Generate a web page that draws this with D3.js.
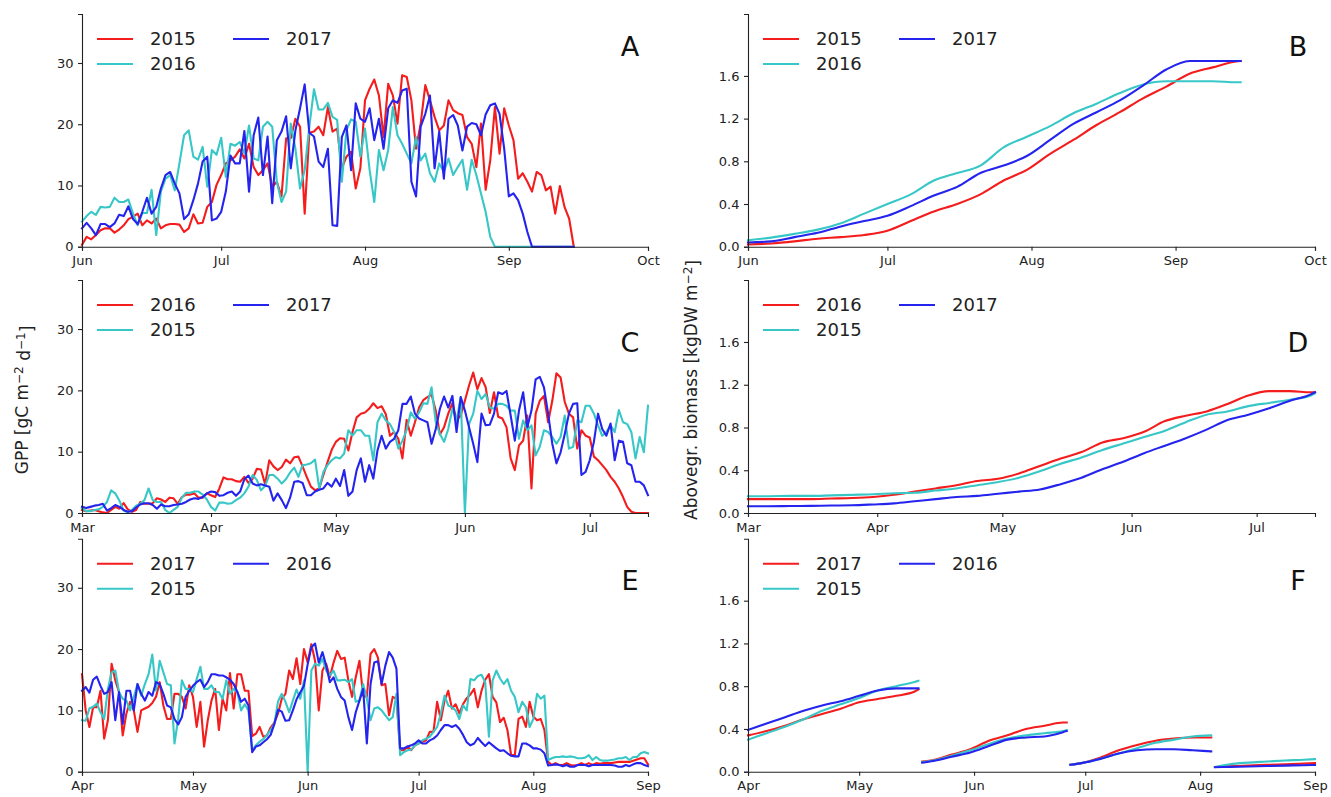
<!DOCTYPE html>
<html><head><meta charset="utf-8">
<script src="https://cdn.jsdelivr.net/npm/d3@7"></script>
<style>
body{margin:0;background:#fff}
svg{display:block}
text{font-family:"DejaVu Sans",sans-serif}
</style>
</head><body>
<svg id="c" width="1331" height="797"></svg>
<script>
// ---------------- DATA ----------------
// Panel A: daily GPP from 1 Jun (index = day offset)
const gppA_2015 = [0.3,1.6,1.2,1.9,2.7,3.0,3.0,2.3,2.8,3.5,4.5,4.9,5.4,3.5,4.3,3.8,4.6,3.0,3.5,3.7,3.7,3.6,2.4,3.0,5.3,3.8,3.9,6.5,7.3,10.1,11.7,13.6,14.1,14.7,15.9,14.4,16.8,13.0,11.7,12.5,13.6,9.8,
 10.6,8.2,17.7,17.7,20.9,19.6,5.4,18.6,18.8,19.6,18.2,22.8,18.8,19.3,12.8,14.7,15.5,9.5,12.8,23.9,25.8,27.3,24.7,17.9,26.6,24.7,20.1,28.0,27.7,23.9,16.0,20.1,26.4,23.9,21.2,19.0,19.8,23.9,
 22.3,21.8,21.5,17.9,16.8,13.0,20.1,9.3,14.1,22.8,15.2,22.6,19.8,17.4,11.1,12.0,10.6,9.0,12.2,11.7,9.2,9.8,5.4,9.9,6.5,4.6,0];
const gppA_2016 = [4.1,5.0,5.7,5.2,6.5,6.4,6.5,8.0,7.3,7.3,7.7,5.4,3.5,5.5,5.5,9.3,1.9,9.0,11.1,11.7,9.2,13.6,18.2,19.0,14.7,14.2,16.3,9.8,15.8,15.0,17.8,11.4,16.8,16.5,17.1,15.2,19.8,14.4,14.1,19.6,20.4,19.6,
 10.6,7.3,9.0,20.1,16.0,9.5,12.5,19.6,25.7,22.4,22.4,23.5,21.2,20.7,10.6,19.0,20.8,20.4,14.7,19.3,12.5,7.3,15.8,12.5,15.8,22.8,18.2,16.8,15.2,13.6,17.9,14.1,15.2,12.0,10.6,13.6,12.2,14.4,
 11.7,13.0,14.2,9.3,14.2,11.7,8.7,5.7,1.6,0,0,0,0,0,0,0,0,0,0,0,0,0,0,0,0,0,0];
const gppA_2017 = [3.0,3.9,3.0,1.9,3.7,3.7,3.2,3.8,5.2,5.0,6.6,4.5,3.7,5.7,8.0,5.4,6.5,9.5,11.7,12.2,10.3,8.7,4.5,5.3,7.6,10.3,13.9,14.7,4.3,4.6,5.7,9.0,14.9,13.6,13.6,18.9,9.0,18.2,21.1,11.7,18.0,7.1,
 17.4,18.8,21.3,12.8,19.0,22.6,26.5,18.6,18.0,13.9,13.0,16.0,3.5,3.4,17.9,19.8,12.5,23.4,20.9,20.4,22.6,17.4,20.9,16.0,22.6,23.9,23.5,25.5,25.8,10.6,8.2,19.6,21.7,24.7,12.8,18.8,11.1,20.9,
 21.5,19.8,15.7,19.6,20.2,20.0,18.2,21.6,23.1,23.4,21.7,16.0,8.2,8.7,7.6,5.4,2.4,0,0,0,0,0,0,0,0,0,0];

// Panel C: daily GPP from 1 Mar
const gppC_2016 = [0.5,0.3,0.4,0.5,0.3,0.1,0.0,0.5,1.0,0.7,1.6,0.6,0.2,0.5,1.8,1.5,1.5,1.6,2.4,2.2,1.8,2.5,2.4,1.5,2.6,3.0,3.0,3.2,2.5,2.5,3.2,2.9,2.6,4.0,5.8,5.5,5.5,5.2,5.1,5.9,4.9,5.6,7.2,7.1,4.7,8.6,
 7.6,7.0,7.5,8.7,8.1,9.1,9.2,7.6,5.9,4.3,3.7,4.0,6.2,8.3,10.3,11.6,12.2,12.1,10.2,13.2,15.6,16.2,16.4,17.0,17.9,17.1,17.4,16.1,12.6,13.2,12.1,8.9,15.2,12.6,14.8,17.2,18.4,18.9,19.3,16.7,12.8,14.0,16.2,
 17.9,15.1,15.9,18.3,20.8,22.9,20.2,22.0,20.5,16.3,19.7,15.7,15.4,14.0,8.9,7.0,11.0,11.8,15.9,4.0,16.2,18.3,19.1,14.8,18.3,22.8,22.1,18.1,16.2,15.6,10.5,13.5,12.6,12.3,9.2,8.6,7.8,7.0,5.9,5.1,4.0,2.6,1.0,0.2,0,0,0,0];
const gppC_2015 = [0.8,0.3,0.3,0.5,0.6,1.0,1.8,3.7,3.2,2.0,0.4,0.1,0.5,1.2,1.5,2.1,4.0,2.1,1.8,1.8,0.5,0.0,0.5,1.0,2.5,3.3,3.3,3.5,3.5,3.0,2.2,1.0,0.4,1.7,1.7,1.5,1.6,2.1,2.5,3.2,4.3,6.2,5.4,3.7,4.4,6.2,
 6.2,5.6,4.8,5.5,6.6,7.4,5.9,7.8,7.9,8.1,8.7,4.0,6.7,7.8,8.6,9.1,8.9,9.7,13.5,12.6,13.5,13.5,12.6,12.6,8.6,14.8,16.2,15.1,14.5,13.2,10.5,11.8,13.5,16.4,15.4,16.4,17.9,17.8,20.5,14.8,12.9,11.6,13.7,
 17.0,15.0,18.9,0,14.5,16.2,19.9,18.6,19.4,17.2,17.0,17.8,17.8,17.5,16.7,16.7,12.1,15.1,13.5,14.3,9.4,10.8,13.5,13.2,12.4,11.3,12.4,15.9,10.5,10.8,15.1,14.8,17.5,17.5,16.2,14.3,12.6,13.2,14.3,13.2,16.8,14.8,14.5,13.2,8.9,12.4,9.9,17.5];
const gppC_2017 = [1.0,0.8,1.0,1.2,1.3,1.5,0.4,0.8,1.3,1.0,0.5,0.2,0.3,0.9,1.4,1.6,1.6,1.3,0.7,1.4,1.1,1.1,1.3,1.4,1.5,1.8,2.2,2.4,2.3,2.6,3.2,3.5,3.4,2.8,2.9,3.3,3.5,2.8,3.5,5.5,6.1,4.8,4.5,4.7,4.5,4.3,
 2.0,3.2,2.1,0.8,2.5,5.1,5.2,4.9,2.9,2.9,3.5,3.8,4.0,4.9,4.3,5.6,4.4,7.0,2.8,3.5,7.0,8.9,5.1,7.8,5.6,10.2,12.6,10.5,11.6,12.1,13.5,17.8,17.8,19.0,16.2,15.4,15.1,14.8,11.3,13.7,17.0,19.0,17.2,
 19.1,13.2,18.9,16.7,14.0,11.3,8.3,16.2,14.3,14.4,16.2,19.7,19.4,19.9,15.9,11.8,16.7,19.7,14.0,16.7,21.8,22.2,20.5,16.2,11.3,8.1,9.9,12.9,16.2,17.8,17.9,6.2,6.7,8.6,11.6,16.2,13.7,12.6,14.6,8.6,11.8,11.6,8.1,7.8,5.1,5.1,4.5,2.9];

// Panel E: daily GPP from 1 Apr
const gppE_2017 = [15.9,10.0,7.3,10.5,10.5,13.2,5.4,8.4,17.6,14.9,13.0,5.9,9.5,11.4,10.0,6.5,10.0,10.3,10.6,11.2,12.2,14.6,10.8,8.6,8.6,12.7,12.7,12.2,10.3,14.1,12.2,7.3,11.4,4.1,8.4,11.6,13.5,6.8,11.9,10.0,16.1,10.3,15.9,15.9,13.2,13.2,5.8,6.2,7.3,5.7,
 5.9,7.2,8.0,9.5,11.9,12.7,16.5,15.1,18.5,14.3,20.0,17.8,20.8,18.1,10.0,16.5,17.6,15.4,17.8,19.7,18.4,18.6,14.9,12.2,15.4,18.1,12.4,12.2,19.2,20.0,18.6,14.1,14.3,9.2,12.2,11.9,3.5,3.5,4.1,3.5,4.3,4.6,4.9,5.1,6.5,6.5,11.4,8.4,11.6,13.2,10.3,
 11.0,9.5,11.0,12.0,12.6,13.5,10.5,13.2,15.0,15.9,12.2,11.3,8.1,8.8,6.8,2.7,2.7,8.6,9.0,7.3,11.4,9.0,8.4,8.6,6.8,1.6,1.1,1.4,1.1,1.1,1.4,1.1,1.0,1.1,1.4,1.1,1.4,1.1,1.4,1.3,1.4,1.4,1.4,1.5,1.6,1.6,1.6,1.6,1.8,2.0,2.2,2.2,1.2];
const gppE_2015 = [8.4,8.3,10.3,10.6,11.1,9.7,8.6,13.5,16.2,16.5,13.0,11.9,11.6,10.0,12.2,14.3,12.4,14.3,15.9,19.1,13.2,18.1,16.2,14.3,14.1,4.6,8.6,14.9,13.5,13.5,13.0,15.1,17.1,13.5,13.5,14.1,13.0,13.0,11.9,14.9,12.7,13.5,13.0,10.0,11.0,10.0,3.5,4.3,4.9,5.3,
 6.0,6.8,7.8,11.5,12.7,11.4,9.7,11.6,13.4,11.9,14.9,0,16.5,17.6,17.3,18.4,16.5,15.7,16.5,14.9,14.9,15.0,14.6,15.1,11.4,11.6,14.3,11.9,8.4,10.3,10.5,10.0,9.2,8.4,8.9,12.7,2.7,3.2,3.5,3.6,4.3,4.6,5.1,5.4,5.7,6.5,7.3,9.5,12.4,10.8,10.5,
 10.0,8.6,10.8,10.0,15.1,14.9,15.6,15.8,14.6,5.7,14.9,16.5,15.2,14.3,15.1,13.2,12.2,9.7,11.4,10.5,7.3,8.6,12.7,11.9,12.4,1.9,2.2,2.4,2.4,2.5,2.4,2.5,2.4,2.2,2.2,2.3,2.7,1.9,2.4,1.9,1.8,1.8,1.9,2.0,2.2,2.2,2.4,1.9,2.4,2.4,3.0,3.2,3.0];
const gppE_2016 = [13.2,13.8,12.9,15.0,15.5,14.0,12.7,13.0,14.6,8.4,13.0,7.8,13.2,13.2,10.0,14.3,12.7,11.6,13.0,12.4,14.6,14.3,12.7,10.8,10.5,8.6,7.7,8.9,12.2,13.2,14.0,14.6,15.0,13.8,14.6,15.9,15.9,15.7,15.7,15.4,15.0,14.3,13.0,11.4,11.9,10.8,3.2,4.1,4.3,4.8,
 5.3,6.0,7.8,10.1,9.8,8.3,8.4,10.0,11.8,12.9,14.0,17.5,20.3,20.9,17.8,19.5,17.3,14.6,15.4,13.5,12.2,11.6,8.9,6.8,9.7,11.6,13.5,4.6,14.3,17.8,18.0,14.3,17.3,19.5,18.6,16.8,3.8,3.8,4.1,4.3,4.6,5.1,4.6,4.6,5.1,5.4,5.9,6.8,7.6,7.6,7.3,
 7.6,7.0,6.0,4.8,4.3,4.6,5.5,4.8,4.2,4.8,4.3,3.8,3.4,3.5,3.0,2.6,2.5,2.5,4.6,4.6,4.3,3.8,3.8,3.6,3.0,1.0,1.1,1.2,1.1,0.9,1.1,0.8,0.8,1.1,1.1,1.1,0.9,1.1,1.1,1.1,1.1,1.1,1.1,1.0,0.8,0.8,1.1,0.9,1.2,1.4,1.4,1.1,0.9];

// Panel B: biomass, day offsets from 1 Jun
const bDays = [0,5,10,15,20,25,30,35,40,45,50,55,60,65,70,75,80,85,90,95,100,105,106];
const bioB_2015 = [0.02,0.03,0.05,0.075,0.09,0.11,0.15,0.24,0.33,0.40,0.49,0.62,0.72,0.87,1.00,1.14,1.26,1.39,1.50,1.62,1.68,1.735,1.74];
const bioB_2016 = [0.06,0.085,0.12,0.16,0.22,0.31,0.40,0.49,0.62,0.69,0.76,0.93,1.03,1.13,1.25,1.34,1.44,1.52,1.55,1.55,1.55,1.54,1.54];
const bioB_2017 = [0.04,0.05,0.09,0.13,0.19,0.24,0.29,0.38,0.48,0.56,0.69,0.76,0.85,1.00,1.15,1.26,1.37,1.51,1.66,1.74,1.74,1.74,1.74];

// Panel D: biomass, day offsets from 1 Mar
const dDays = [0,5,10,15,20,25,30,35,40,45,50,55,60,65,70,75,80,85,90,95,100,105,110,115,120,125,130,135,136];
const bioD_2016 = [0.13,0.13,0.13,0.13,0.135,0.14,0.15,0.17,0.20,0.23,0.26,0.30,0.32,0.37,0.44,0.51,0.57,0.66,0.70,0.76,0.86,0.91,0.95,1.02,1.10,1.14,1.14,1.13,1.13];
const bioD_2015 = [0.157,0.157,0.16,0.16,0.165,0.17,0.175,0.185,0.19,0.21,0.23,0.26,0.29,0.33,0.39,0.46,0.52,0.59,0.65,0.71,0.77,0.85,0.92,0.95,1.00,1.03,1.06,1.10,1.12];
const bioD_2017 = [0.063,0.063,0.065,0.067,0.07,0.072,0.08,0.09,0.11,0.13,0.15,0.16,0.18,0.20,0.22,0.27,0.33,0.41,0.48,0.56,0.63,0.70,0.78,0.87,0.92,0.98,1.05,1.11,1.13];

// Panel F: biomass, day offsets from 1 Apr; regrowth restarts after each cut
const fDays = [0,5,10,15,20,25,30,35,40,45,46, 47,50,55,60,65,70,75,80,85,86, 87,90,95,100,105,110,115,120,125, 126,130,135,140,145,150,153];
const fCuts = [47,87,126];
const bioF_2017 = [0.34,0.38,0.43,0.49,0.54,0.59,0.65,0.68,0.71,0.75,0.77, 0.094,0.11,0.16,0.21,0.29,0.34,0.40,0.43,0.46,0.46, 0.065,0.08,0.13,0.20,0.25,0.29,0.31,0.32,0.32, 0.044,0.05,0.058,0.064,0.07,0.076,0.08];
const bioF_2015 = [0.30,0.36,0.42,0.49,0.57,0.63,0.69,0.76,0.80,0.84,0.85, 0.09,0.105,0.15,0.20,0.26,0.31,0.34,0.36,0.38,0.39, 0.065,0.08,0.12,0.17,0.22,0.27,0.30,0.33,0.34, 0.044,0.07,0.085,0.095,0.105,0.112,0.118];
const bioF_2016 = [0.39,0.45,0.51,0.57,0.62,0.66,0.71,0.76,0.78,0.78,0.78, 0.085,0.10,0.14,0.18,0.24,0.30,0.32,0.33,0.37,0.38, 0.065,0.08,0.12,0.17,0.20,0.21,0.21,0.20,0.19, 0.042,0.045,0.049,0.053,0.057,0.061,0.063];

const gppTicks = [0,10,20,30];
const bioTicks = [0,0.4,0.8,1.2,1.6];
const gppMax = 38, bioMax = 2.18;

// ---------------- STYLE / LAYOUT ----------------
const RED = "#f41c1c", CYAN = "#38c7c7", BLUE = "#2424ee";
const svg = d3.select("#c");
const cols = [{x0:82, x1:648},{x0:748, x1:1315}];
const rows = [{top:14, bottom:246.7},{top:280, bottom:513},{top:538.7, bottom:771.7}];
const parse = d3.utcParse("%Y-%m-%d");

function daily(arr){ return arr.map((v,i)=>({d:i, v})); }
function sampled(days, vals, cuts){
  const out = [];
  days.forEach((d,i)=>{
    if (cuts && cuts.includes(d)) out.push({d, v:null});
    out.push({d, v:vals[i]});
  });
  return out;
}

const panels = [
  {col:0,row:0,letter:"A",lp:[630,46],start:"2015-06-01",end:"2015-10-01",max:gppMax,ticks:gppTicks,fmt:d3.format("d"),smooth:false,
   series:[{lab:"2015",c:RED,pts:daily(gppA_2015)},{lab:"2016",c:CYAN,pts:daily(gppA_2016)},{lab:"2017",c:BLUE,pts:daily(gppA_2017)}]},
  {col:1,row:0,letter:"B",lp:[1298,46],start:"2015-06-01",end:"2015-10-01",max:bioMax,ticks:bioTicks,fmt:d3.format(".1f"),smooth:true,
   series:[{lab:"2015",c:RED,pts:sampled(bDays,bioB_2015)},{lab:"2016",c:CYAN,pts:sampled(bDays,bioB_2016)},{lab:"2017",c:BLUE,pts:sampled(bDays,bioB_2017)}]},
  {col:0,row:1,letter:"C",lp:[630,342],start:"2015-03-01",end:"2015-07-15",max:gppMax,ticks:gppTicks,fmt:d3.format("d"),smooth:false,
   series:[{lab:"2016",c:RED,pts:daily(gppC_2016)},{lab:"2015",c:CYAN,pts:daily(gppC_2015)},{lab:"2017",c:BLUE,pts:daily(gppC_2017)}]},
  {col:1,row:1,letter:"D",lp:[1298,342],start:"2015-03-01",end:"2015-07-15",max:bioMax,ticks:bioTicks,fmt:d3.format(".1f"),smooth:true,
   series:[{lab:"2016",c:RED,pts:sampled(dDays,bioD_2016)},{lab:"2015",c:CYAN,pts:sampled(dDays,bioD_2015)},{lab:"2017",c:BLUE,pts:sampled(dDays,bioD_2017)}]},
  {col:0,row:2,letter:"E",lp:[630,580],start:"2015-04-01",end:"2015-09-01",max:gppMax,ticks:gppTicks,fmt:d3.format("d"),smooth:false,
   series:[{lab:"2017",c:RED,pts:daily(gppE_2017)},{lab:"2015",c:CYAN,pts:daily(gppE_2015)},{lab:"2016",c:BLUE,pts:daily(gppE_2016)}]},
  {col:1,row:2,letter:"F",lp:[1298,580],start:"2015-04-01",end:"2015-09-01",max:bioMax,ticks:bioTicks,fmt:d3.format(".1f"),smooth:true,
   series:[{lab:"2017",c:RED,pts:sampled(fDays,bioF_2017,fCuts)},{lab:"2015",c:CYAN,pts:sampled(fDays,bioF_2015,fCuts)},{lab:"2016",c:BLUE,pts:sampled(fDays,bioF_2016,fCuts)}]}
];

const monthFmt = d3.utcFormat("%b");

panels.forEach(p=>{
  const c = cols[p.col], r = rows[p.row];
  const t0 = parse(p.start), t1 = parse(p.end);
  const x = d3.scaleUtc().domain([t0,t1]).range([c.x0,c.x1]);
  const y = d3.scaleLinear().domain([0,p.max]).range([r.bottom,r.top]);
  const g = svg.append("g");

  // lines
  const line = d3.line()
    .defined(d=>d.v!==null)
    .x(d=>x(d3.utcDay.offset(t0,d.d)))
    .y(d=>y(d.v))
    .curve(p.smooth ? d3.curveMonotoneX : d3.curveLinear);
  p.series.forEach(s=>{
    g.append("path").attr("d",line(s.pts)).attr("fill","none")
      .attr("stroke",s.c).attr("stroke-width",2.1).attr("stroke-linejoin","round").attr("stroke-linecap","square");
  });

  // axes
  const months = d3.utcMonth.range(t0, d3.utcDay.offset(t1,1));
  const xa = d3.axisBottom(x).tickValues(months).tickFormat(monthFmt).tickSizeOuter(0).tickSize(4).tickPadding(5.5);
  const gx = g.append("g").attr("transform",`translate(0,${r.bottom})`).call(xa);
  const ya = d3.axisLeft(y).tickValues(p.ticks).tickFormat(p.fmt).tickSizeOuter(0).tickSize(4).tickPadding(4.5);
  const gy = g.append("g").attr("transform",`translate(${c.x0},0)`).call(ya);
  [gx,gy].forEach(a=>{
    a.selectAll("path").attr("stroke","#222").attr("stroke-width",1.1);
    a.selectAll("line").attr("stroke","#222").attr("stroke-width",1.1);
    a.selectAll("text").attr("fill","#222").style("font-size","13px").style("font-family","DejaVu Sans");
  });

  // legend (2 columns, column-major)
  const lx = c.x0 + 15, ly = r.top + 25;
  p.series.forEach((s,i)=>{
    const col = i<2 ? 0 : 1, row = i<2 ? i : 0;
    const ox = lx + col*136, oy = ly + row*25;
    g.append("line").attr("x1",ox).attr("x2",ox+36).attr("y1",oy).attr("y2",oy)
      .attr("stroke",s.c).attr("stroke-width",2.1);
    g.append("text").attr("x",ox+53).attr("y",oy).attr("dy","0.36em")
      .style("font-size","18px").attr("fill","#222").text(s.lab);
  });

  // panel letter
  g.append("text").attr("x",p.lp[0]).attr("y",p.lp[1]).attr("dy","0.36em")
    .attr("text-anchor","middle").style("font-size","27px").attr("fill","#111").text(p.letter);
});

// y labels
function supLabel(xc, yc, parts){
  const t = svg.append("text").attr("transform",`translate(${xc},${yc}) rotate(-90)`)
    .attr("text-anchor","middle").style("font-size","17px").attr("fill","#222");
  parts.forEach(pt=>{
    if (pt.sup) t.append("tspan").attr("dy","-0.45em").style("font-size","12px").text(pt.s);
    else t.append("tspan").attr("dy", pt.down ? "0.45em" : null).text(pt.s);
  });
}
supLabel(28, 400, [{s:"GPP [gC m"},{s:"\u22122",sup:true},{s:" d",down:true},{s:"\u22121",sup:true},{s:"]",down:true}]);
supLabel(697, 390, [{s:"Abovegr. biomass [kgDW m"},{s:"\u22122",sup:true},{s:"]",down:true}]);
</script>
</body></html>
